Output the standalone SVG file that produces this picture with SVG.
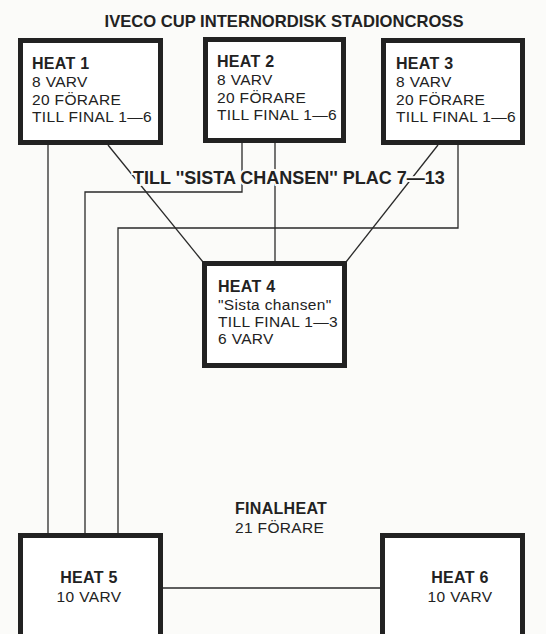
<svg xmlns="http://www.w3.org/2000/svg" width="546" height="634" viewBox="0 0 546 634">
<style>
.box{fill:#fff;stroke:#222;stroke-width:5}
.ln{fill:none;stroke:#2a2a2a;stroke-width:1.3}
.t{font-family:"Liberation Sans",Arial,sans-serif;fill:#222;font-size:15.5px;letter-spacing:0.35px}
.b{font-weight:bold;font-size:16px;letter-spacing:0.3px}
.title{font-family:"Liberation Sans",Arial,sans-serif;font-weight:bold;fill:#222;font-size:16.6px}
.lab{font-family:"Liberation Sans",Arial,sans-serif;font-weight:bold;fill:#222;font-size:18px;stroke:#fbfbf9;stroke-width:4;paint-order:stroke}
</style>
<rect x="0" y="0" width="546" height="634" fill="#fbfbf9"/>
<g id="connectors">
<line class="ln" x1="48" y1="145" x2="48" y2="535"/>
<line class="ln" x1="108" y1="145" x2="203" y2="262"/>
<polyline class="ln" points="242,143 242,192 85,192 85,535"/>
<line class="ln" x1="275" y1="143" x2="275" y2="262"/>
<line class="ln" x1="438" y1="145" x2="346" y2="262"/>
<polyline class="ln" points="458,145 458,228 118,228 118,535"/>
<line class="ln" x1="163" y1="588" x2="380" y2="588"/>
</g>
<text class="title" x="284" y="27" text-anchor="middle">IVECO CUP INTERNORDISK STADIONCROSS</text>
<text class="lab" x="133" y="184">TILL ''SISTA CHANSEN'' PLAC 7—13</text>
<g id="heat1">
<rect class="box" x="20.5" y="40.5" width="140" height="102"/>
<text class="t b" x="32" y="69">HEAT 1</text>
<text class="t" x="32" y="87">8 VARV</text>
<text class="t" x="32" y="105">20 FÖRARE</text>
<text class="t" x="32" y="122">TILL FINAL 1—6</text>
</g>
<g id="heat2">
<rect class="box" x="205.5" y="39.5" width="138" height="101"/>
<text class="t b" x="217" y="67">HEAT 2</text>
<text class="t" x="217" y="85">8 VARV</text>
<text class="t" x="217" y="103">20 FÖRARE</text>
<text class="t" x="217" y="120">TILL FINAL 1—6</text>
</g>
<g id="heat3">
<rect class="box" x="383.5" y="40.5" width="139" height="102"/>
<text class="t b" x="396" y="69">HEAT 3</text>
<text class="t" x="396" y="87">8 VARV</text>
<text class="t" x="396" y="105">20 FÖRARE</text>
<text class="t" x="396" y="122">TILL FINAL 1—6</text>
</g>
<g id="heat4">
<rect class="box" x="204.5" y="263.5" width="140" height="102"/>
<text class="t b" x="218" y="292">HEAT 4</text>
<text class="t" x="218" y="310">"Sista chansen"</text>
<text class="t" x="218" y="327">TILL FINAL 1—3</text>
<text class="t" x="218" y="344">6 VARV</text>
</g>
<g id="finalheat">
<text class="t b" x="235" y="514">FINALHEAT</text>
<text class="t" x="235" y="533">21 FÖRARE</text>
</g>
<g id="heat5">
<rect class="box" x="20.5" y="535.5" width="140" height="120"/>
<text class="t b" x="89" y="583" text-anchor="middle">HEAT 5</text>
<text class="t" x="89" y="602" text-anchor="middle">10 VARV</text>
</g>
<g id="heat6">
<rect class="box" x="382.5" y="535.5" width="140" height="120"/>
<text class="t b" x="460" y="583" text-anchor="middle">HEAT 6</text>
<text class="t" x="460" y="602" text-anchor="middle">10 VARV</text>
</g>
</svg>
